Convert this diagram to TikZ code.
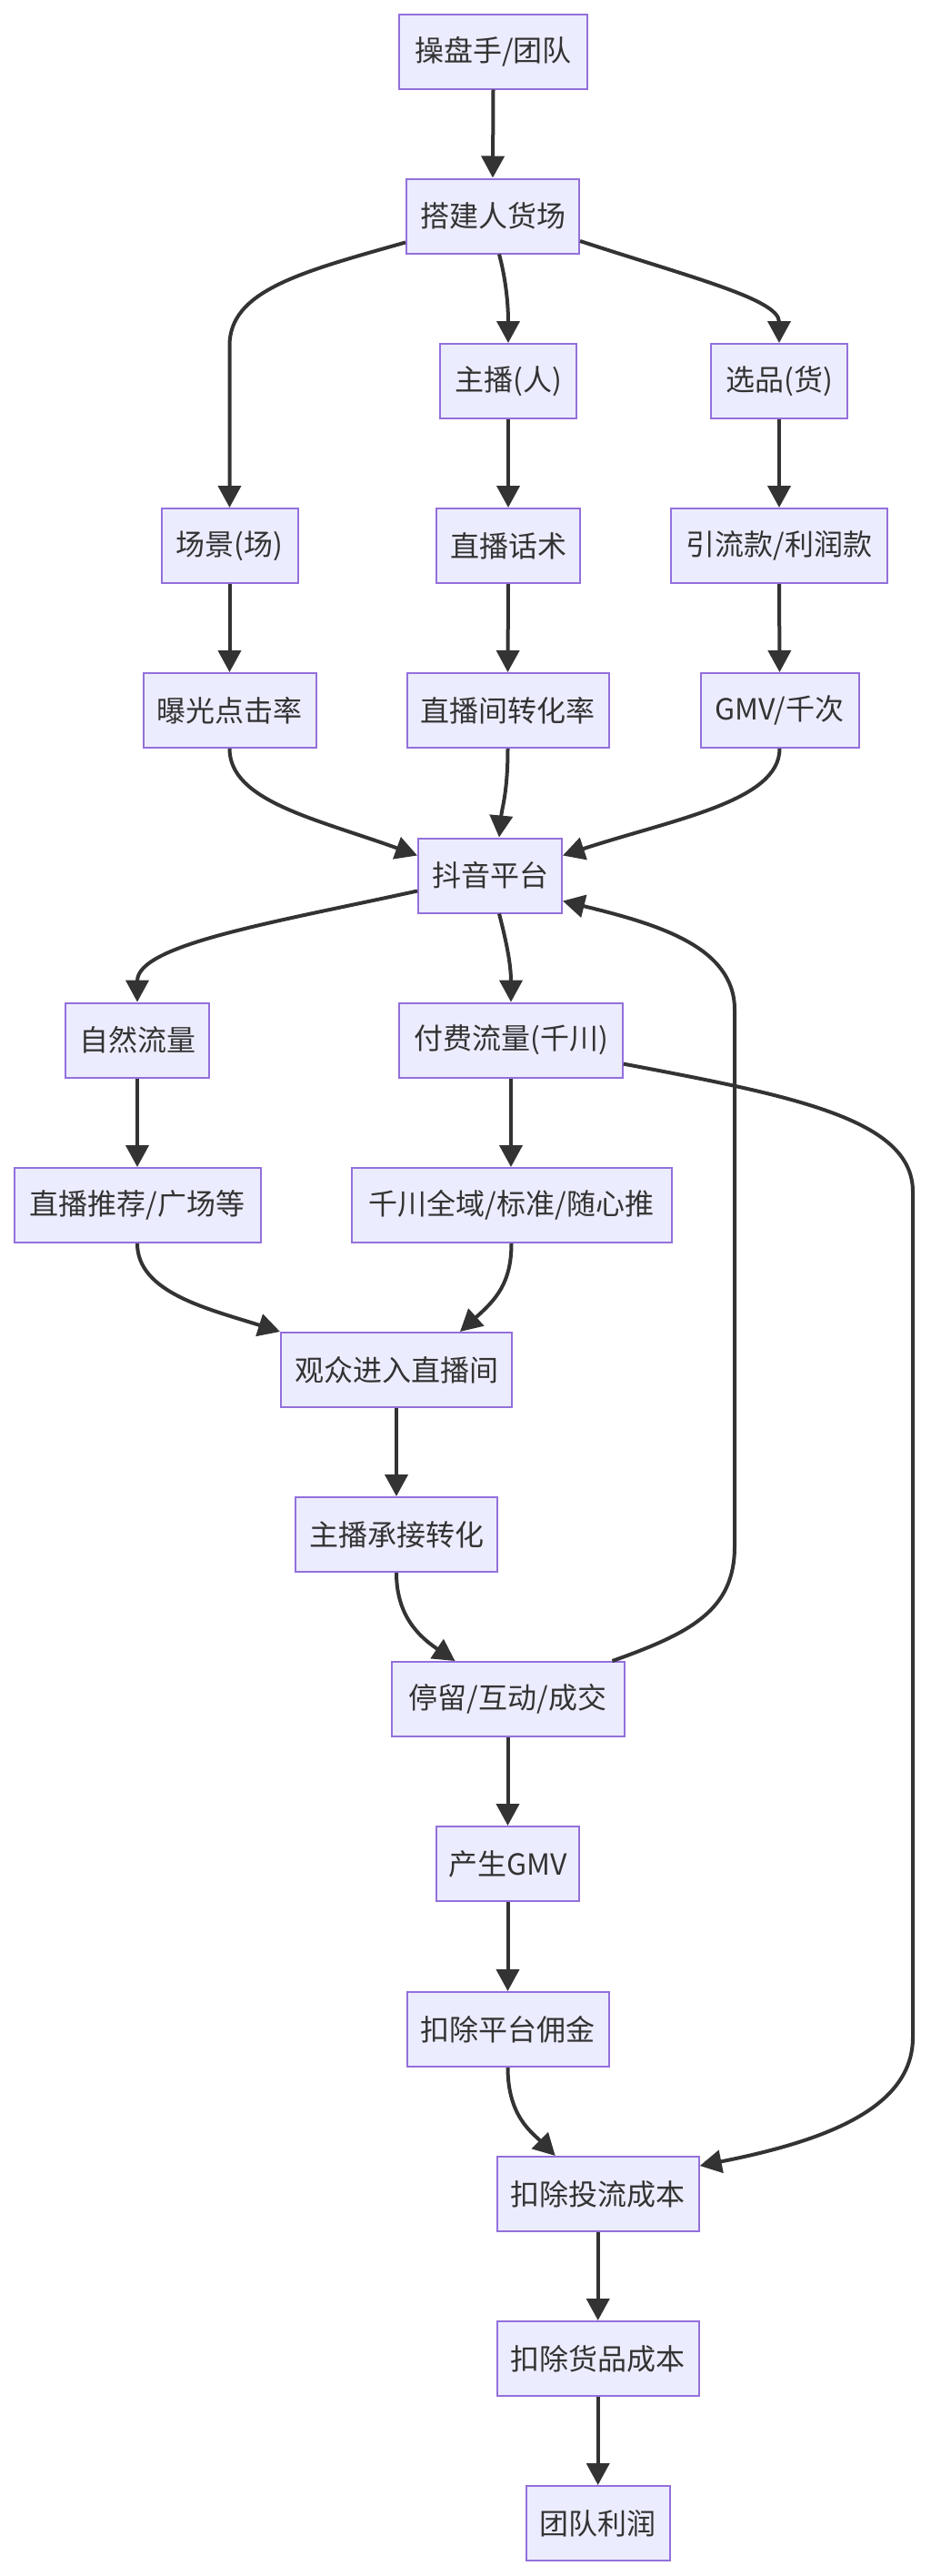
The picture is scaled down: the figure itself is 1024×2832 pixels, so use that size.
\documentclass[tikz,border=0pt]{standalone}
\usepackage{fontspec}
\newfontfamily\cjk{Noto Sans CJK SC}
\usetikzlibrary{arrows.meta}
\definecolor{nodefill}{HTML}{ECECFF}
\definecolor{nodeline}{HTML}{9370DB}
\definecolor{edgecol}{HTML}{333333}
\definecolor{txt}{HTML}{333333}
\begin{document}
\begin{tikzpicture}[x=1pt,y=-1pt,
  box/.style={draw=nodeline, fill=nodefill, line width=2pt, minimum height=82pt, inner xsep=4pt, text=txt, font=\cjk\fontsize{32}{38}\selectfont},
  flow/.style={draw=edgecol, line width=4pt, -{Triangle[length=24pt,width=25pt]}}]
\fill[white] (0,0) rectangle (1024,2832);
\path[use as bounding box] (0,0) rectangle (1024,2832);

\node[box, minimum width=207pt] (A) at (542.5,56.5) {操盘手/团队};
\node[box, minimum width=190pt] (B) at (542,237.5) {搭建人货场};
\node[box, minimum width=150pt] (C) at (559,419) {主播(人)};
\node[box, minimum width=150pt] (D) at (857,419) {选品(货)};
\node[box, minimum width=150pt] (E) at (252.5,600) {场景(场)};
\node[box, minimum width=157.5pt] (F) at (559,600) {直播话术};
\node[box, minimum width=238.5pt] (G) at (857,600) {引流款/利润款};
\node[box, minimum width=190pt] (H) at (252.5,781) {曝光点击率};
\node[box, minimum width=222pt] (I) at (558.5,781) {直播间转化率};
\node[box, minimum width=174pt] (J) at (857.5,781) {GMV/千次};
\node[box, minimum width=158pt] (K) at (539,962.5) {抖音平台};
\node[box, minimum width=158.6pt] (L) at (151,1143.6) {自然流量};
\node[box, minimum width=245.6pt] (M) at (562,1143.6) {付费流量(千川)};
\node[box, minimum width=271pt] (N) at (151,1325) {直播推荐/广场等};
\node[box, minimum width=352pt] (O) at (562.5,1325) {千川全域/标准/随心推};
\node[box, minimum width=254pt] (P) at (436,1506) {观众进入直播间};
\node[box, minimum width=222pt] (Q) at (436,1687) {主播承接转化};
\node[box, minimum width=256pt] (R) at (558.5,1868) {停留/互动/成交};
\node[box, minimum width=157.5pt] (S) at (558.5,2049) {产生GMV};
\node[box, minimum width=222pt] (T) at (558.5,2231) {扣除平台佣金};
\node[box, minimum width=222pt] (U) at (657.7,2412) {扣除投流成本};
\node[box, minimum width=222pt] (V) at (657.7,2593) {扣除货品成本};
\node[box, minimum width=158pt] (W) at (657.7,2774) {团队利润};

\draw[flow] (A.south) -- (B.north);
\draw[flow] ([yshift=-29pt]B.west) .. controls +(-117,33) and +(0,-60) .. (252.5,380) -- (E.north);
\draw[flow] ([xshift=7pt]B.south) .. controls +(6,22) and +(0,-48) .. (C.north);
\draw[flow] ([yshift=-27.5pt]B.east) .. controls +(122,40) and +(0,-48) .. (D.north);
\draw[flow] (C.south) -- (F.north);
\draw[flow] (D.south) -- (G.north);
\draw[flow] (E.south) -- (H.north);
\draw[flow] (F.south) -- (I.north);
\draw[flow] (G.south) -- (J.north);
\draw[flow] (H.south) .. controls +(0,58) and +(-110,-40) .. ([yshift=22pt]K.west);
\draw[flow] (I.south) .. controls +(0,48) and +(3,-32) .. ([xshift=10pt]K.north);
\draw[flow] (J.south) .. controls +(0,58) and +(122,-40) .. ([yshift=22pt]K.east);
\draw[flow] ([yshift=-17pt]K.west) .. controls +(-160,35) and +(0,-63) .. (L.north);
\draw[flow] ([xshift=10pt]K.south) .. controls +(7,27) and +(0,-43) .. (M.north);
\draw[flow] ([xshift=-14pt]R.north east) .. controls +(87,-31) and +(0,70) .. (808,1700) -- (808,1110) .. controls +(0,-70) and +(102,25) .. ([yshift=-28pt]K.east);
\draw[flow] ([yshift=-26pt]M.east) .. controls +(185,35) and +(0,-80) .. (1004,1310) -- (1004,2240) .. controls +(0,80) and +(131,-26) .. ([yshift=31pt]U.east);
\draw[flow] (L.south) -- (N.north);
\draw[flow] (M.south) -- (M.south |- O.north);
\draw[flow] (N.south) .. controls +(0,54) and +(-79,-25) .. (P.north west);
\draw[flow] (O.south) .. controls +(0,44) and +(39,-35) .. ([xshift=70pt]P.north);
\draw[flow] (P.south) -- (Q.north);
\draw[flow] (Q.south) .. controls +(0,47) and +(-40,-27) .. ([xshift=-58pt]R.north);
\draw[flow] (R.south) -- (S.north);
\draw[flow] (S.south) -- (T.north);
\draw[flow] (T.south) .. controls +(0,53) and +(-26,-26) .. ([xshift=-47pt]U.north);
\draw[flow] (U.south) -- (V.north);
\draw[flow] (V.south) -- (W.north);
\end{tikzpicture}
\end{document}
